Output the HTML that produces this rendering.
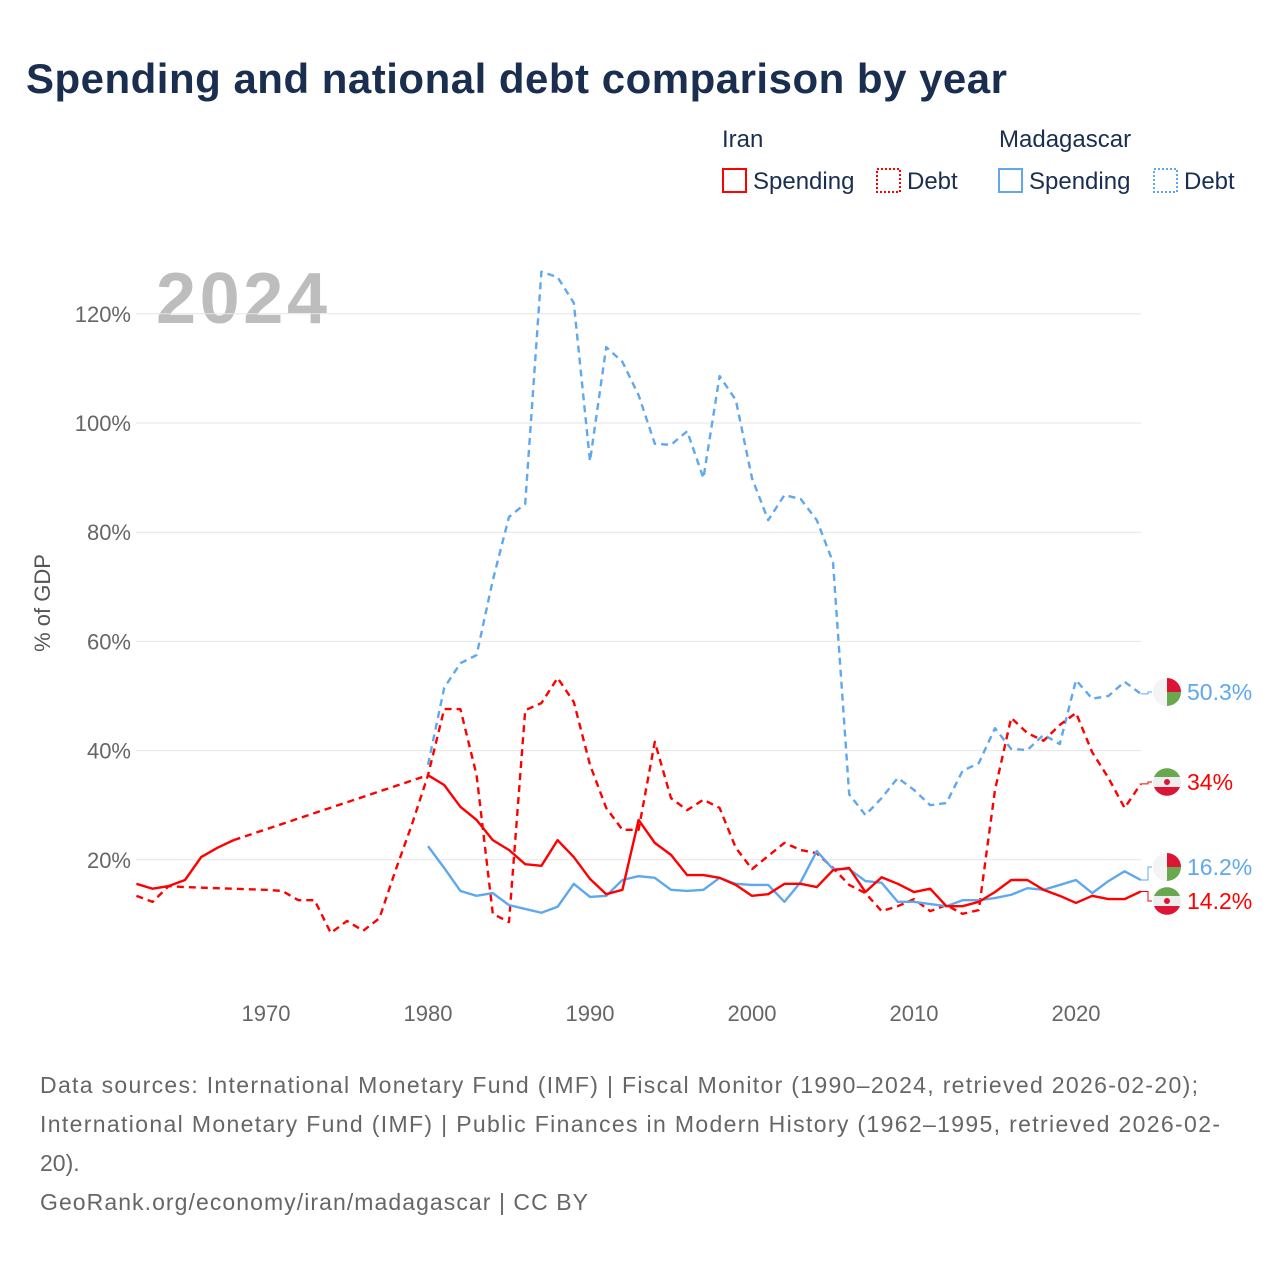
<!DOCTYPE html>
<html><head><meta charset="utf-8"><style>
body{margin:0;background:#fff;font-family:"Liberation Sans",sans-serif;}
svg text{font-family:"Liberation Sans",sans-serif;}
</style></head><body>
<svg width="1280" height="1280" viewBox="0 0 1280 1280">
<text x="26" y="93" font-size="42" font-weight="bold" fill="#1a2e4f" textLength="981">Spending and national debt comparison by year</text>
<g font-size="24" fill="#1a2e4f">
<text x="722" y="147" fill="#1a2e4f">Iran</text>
<text x="999" y="147" fill="#1a2e4f">Madagascar</text>
<g><rect x="723" y="169" width="23" height="23" fill="none" stroke="#f00" stroke-width="2"/><text x="753" y="189" fill="#1a2e4f">Spending</text></g>
<g><rect x="877" y="169" width="23" height="23" fill="none" stroke="#f00" stroke-width="2" stroke-dasharray="2,2"/><text x="907" y="189" fill="#1a2e4f">Debt</text></g>
<g><rect x="999" y="169" width="23" height="23" fill="none" stroke="#5fa8ee" stroke-width="2"/><text x="1029" y="189" fill="#1a2e4f">Spending</text></g>
<g><rect x="1154" y="169" width="23" height="23" fill="none" stroke="#5fa8ee" stroke-width="2" stroke-dasharray="2,2"/><text x="1184" y="189" fill="#1a2e4f">Debt</text></g>
</g>
<text x="156" y="323" font-size="72" font-weight="bold" fill="#bdbdbd" textLength="171">2024</text>
<text transform="translate(50,603) rotate(-90)" text-anchor="middle" font-size="22" fill="#555">% of GDP</text>
<g id="grid"></g><g id="series"></g><g id="ends"></g>
<g font-size="23" fill="#666">
<text x="40" y="1093" textLength="1158">Data sources: International Monetary Fund (IMF) | Fiscal Monitor (1990–2024, retrieved 2026-02-20);</text>
<text x="40" y="1132" textLength="1180">International Monetary Fund (IMF) | Public Finances in Modern History (1962–1995, retrieved 2026-02-</text>
<text x="40" y="1171">20).</text>
<text x="40" y="1210" textLength="548">GeoRank.org/economy/iran/madagascar | CC BY</text>
</g>
</svg>
<script>
const years=[];for(let y=1962;y<=2024;y++)years.push(y);
const yTicks=[20,40,60,80,100,120];
const xTicks=[1970,1980,1990,2000,2010,2020];
const iranSpendStart=1962;
const iranSpending=[15.6,14.7,15.2,16.3,20.5,22.2,23.6,null,null,null,null,null,null,null,null,null,null,null,35.5,33.7,29.7,27.3,23.6,21.8,19.2,18.9,23.6,20.5,16.5,13.7,14.5,27.3,23.1,20.9,17.2,17.2,16.7,15.4,13.4,13.7,15.6,15.6,15.0,18.1,18.5,14.1,16.8,15.6,14.1,14.7,11.5,11.5,12.3,14.1,16.3,16.3,14.5,13.4,12.1,13.4,12.8,12.8,14.2];
const iranDebt=[13.4,12.3,15.2,15.0,14.9,14.8,14.7,14.6,14.5,14.3,12.6,12.6,6.6,8.8,7.0,9.3,18.1,26.4,35.5,47.6,47.6,35.5,10.1,8.6,47.4,48.7,53.3,48.9,37.4,29.5,25.5,25.5,41.6,31.3,29.1,31.0,29.5,22.2,18.3,20.7,23.1,21.8,21.2,18.5,15.4,13.9,10.6,11.5,12.8,10.6,11.7,10.1,10.8,32.8,46.0,43.2,41.8,44.7,46.9,39.7,35.0,29.5,33.9];
const madStart=1980;
const madSpending=[22.5,18.5,14.3,13.4,13.9,11.7,11.0,10.3,11.4,15.6,13.2,13.4,16.3,17.0,16.7,14.5,14.3,14.5,16.7,15.6,15.4,15.4,12.3,15.9,21.6,18.3,18.3,16.1,15.8,12.3,12.3,11.9,11.5,12.6,12.6,13.0,13.6,14.8,14.5,15.4,16.3,13.9,16.1,17.9,16.3];
const madDebt=[37.4,51.5,56.0,57.5,71.2,82.8,85.2,127.7,126.7,122.0,93.0,113.9,111.2,105.1,96.2,96.0,98.5,89.9,108.6,104.2,89.9,82.2,86.8,86.1,82.2,74.5,32.0,28.2,31.3,35.0,32.8,30.0,30.4,36.3,37.7,44.1,40.3,40.1,42.9,41.2,52.9,49.5,50.0,52.6,50.4];
const endLabels=["50.3%","34%","16.2%","14.2%"];
const NS="http://www.w3.org/2000/svg";
const X=y=>136.4+(y-1962)*16.2, Y=v=>969-v*5.46;
function el(t,a,p){const e=document.createElementNS(NS,t);for(const k in a)e.setAttribute(k,a[k]);p.appendChild(e);return e;}
const grid=document.getElementById('grid');
yTicks.forEach(t=>{
 const l=el('line',{x1:136,x2:1141,y1:Y(t),y2:Y(t),stroke:'#e6e6e6','stroke-width':1},grid);
 
 
 const tx=el('text',{x:131,y:Y(t)+8,'text-anchor':'end','font-size':22,fill:'#666'},grid);tx.textContent=t+'%';
 
 
});
xTicks.forEach(t=>{
 const tx=el('text',{x:X(t),y:1021,'text-anchor':'middle','font-size':22,fill:'#666'},grid);tx.textContent=t;
 
 
});
const S=document.getElementById('series');
function draw(vals,start,color,dash,name){
 let segs=[],cur=[];
 vals.forEach((v,i)=>{if(v==null){if(cur.length)segs.push(cur);cur=[];}else cur.push([X(start+i),Y(v)]);});
 if(cur.length)segs.push(cur);
 segs.forEach((s,k)=>{
  const p=el('path',{d:'M'+s.map(q=>q.join(',')).join('L'),fill:'none',stroke:color,'stroke-width':2.4,'stroke-dasharray':dash||'none','stroke-linejoin':'round'},S);
  
  
  if(k>0){const a=segs[k-1][segs[k-1].length-1],b=s[0];
   const g=el('path',{d:`M${a[0]},${a[1]}L${b[0]},${b[1]}`,fill:'none',stroke:color,'stroke-width':2.4,'stroke-dasharray':'7,5'},S);
   
   }
 });
}
draw(madDebt,madStart,'#5fa8ee','7,5','madagascar-debt-line');
draw(iranDebt,1962,'#f00','7,5','iran-debt-line');
draw(madSpending,madStart,'#5fa8ee',null,'madagascar-spending-line');
draw(iranSpending,iranSpendStart,'#f00',null,'iran-spending-line');
const E=document.getElementById('ends');
const ends=[[madDebt[madDebt.length-1],692,'#5fa8ee','mad'],[iranDebt[iranDebt.length-1],782,'#f00','iran'],[madSpending[madSpending.length-1],867,'#5fa8ee','mad'],[iranSpending[iranSpending.length-1],901,'#f00','iran']];
ends.forEach((e,i)=>{
 const y0=Y(e[0]),c0=e[1];
 const c=el('path',{d:`M${X(2024)},${y0}L1148,${y0}L1148,${c0}L1152,${c0}`,fill:'none',stroke:e[2],'stroke-width':1},E);
 
 
 const g=el('g',{},E);
 
 
 el('circle',{cx:1167,cy:c0,r:14,fill:'#eee'},g);
 if(e[3]=='mad'){
  el('path',{d:`M1167,${c0-14}A14,14 0 0 0 1167,${c0+14}Z`,fill:'#f4f4f4'},g);
  el('path',{d:`M1167,${c0-14}A14,14 0 0 1 1181,${c0}L1167,${c0}Z`,fill:'#dc1436'},g);
  el('path',{d:`M1167,${c0}L1181,${c0}A14,14 0 0 1 1167,${c0+14}Z`,fill:'#6aa84f'},g);}
 else{el('path',{d:`M1154,${c0-5}A14,14 0 0 1 1180,${c0-5}Z`,fill:'#6aa84f'},g);
  el('path',{d:`M1154,${c0+5}A14,14 0 0 0 1180,${c0+5}Z`,fill:'#dc1436'},g);
  el('circle',{cx:1167,cy:c0,r:3,fill:'#dc1436'},g);}
 const t=el('text',{x:1187,y:c0+8,'font-size':23,fill:e[2]},E);t.textContent=endLabels[i];
 
 
});
</script>
</body></html>
